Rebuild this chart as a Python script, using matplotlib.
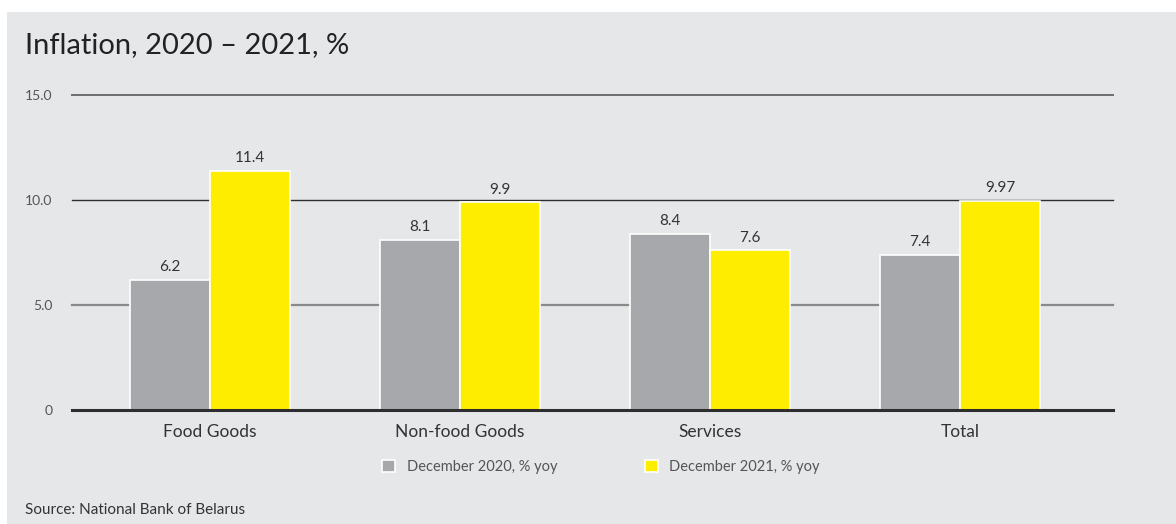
import matplotlib.pyplot as plt
import numpy as np
from matplotlib.patches import Rectangle

# ----------------------------
# data
# ----------------------------
categories = ["Food Goods", "Non-food Goods", "Services", "Total"]
dec_2020 = [6.2, 8.1, 8.4, 7.4]
dec_2021 = [11.4, 9.9, 7.6, 9.97]
labels_2020 = ["6.2", "8.1", "8.4", "7.4"]
labels_2021 = ["11.4", "9.9", "7.6", "9.97"]
series_names = ["December 2020, % yoy", "December 2021, % yoy"]
yticks = [0, 5, 10, 15]
ytick_labels = ["0", "5.0", "10.0", "15.0"]

grey = "#a7a8ab"
yellow = "#ffed00"
panel = "#e6e7e9"
text_col = "#333333"

plt.rcParams["font.family"] = ["Lato", "DejaVu Sans"]

fig = plt.figure(figsize=(11.76, 5.24), dpi=100)
fig.patch.set_facecolor("white")
fig.patches.append(Rectangle((7 / 1176, 0), 1, 1 - 12 / 524, transform=fig.transFigure,
                             facecolor=panel, edgecolor="none", zorder=-10))

ax = fig.add_axes([72 / 1176, 1 - 410 / 524, (1113 - 72) / 1176, (410 - 95) / 524])
ax.set_facecolor("none")

x = np.arange(len(categories))
w = 0.32
b1 = ax.bar(x - w / 2, dec_2020, w, color=grey, edgecolor="white", linewidth=1.2,
            label=series_names[0], zorder=3)
b2 = ax.bar(x + w / 2, dec_2021, w, color=yellow, edgecolor="white", linewidth=1.2,
            label=series_names[1], zorder=3)

for rects, labs in ((b1, labels_2020), (b2, labels_2021)):
    for r, lab in zip(rects, labs):
        ax.annotate(lab, (r.get_x() + r.get_width() / 2, r.get_height()),
                    xytext=(0, 4), textcoords="offset points", ha="center", va="bottom",
                    fontsize=11, color=text_col)

# horizontal reference lines
line_styles = {0: ("#2e2e2e", 2.2), 5: ("#8a8a8a", 1.6), 10: ("#2e2e2e", 1.0), 15: ("#6d6d6d", 1.4)}
for yv, (c, lw) in line_styles.items():
    ax.axhline(yv, color=c, linewidth=lw, zorder=2 if yv else 4, clip_on=False)

ax.set_xlim(-0.552, 3.612)
ax.set_ylim(0, 15)
ax.set_yticks(yticks)
ax.set_yticklabels(ytick_labels)
ax.set_xticks(x)
ax.set_xticklabels(categories)
ax.tick_params(axis="y", length=0, pad=14, labelsize=10, labelcolor="#555555")
ax.tick_params(axis="x", length=0, pad=10, labelsize=12.5, labelcolor=text_col)
for s in ax.spines.values():
    s.set_visible(False)

fig.legend(handles=[b1, b2], labels=series_names, loc="center", bbox_to_anchor=(0.511, 1 - 467 / 524),
           ncol=2, frameon=False, fontsize=10.5, labelcolor="#555555", handlelength=0.9,
           handleheight=0.9, columnspacing=6.0, handletextpad=0.8)

fig.text(25 / 1176, 1 - 45 / 524, "Inflation, 2020 – 2021, %", fontsize=21, color="#222222",
         ha="left", va="center")
fig.text(25 / 1176, 1 - 510 / 524, "Source: National Bank of Belarus", fontsize=11,
         color=text_col, ha="left", va="center")

fig.savefig("out.png", dpi=100, facecolor=fig.get_facecolor())
